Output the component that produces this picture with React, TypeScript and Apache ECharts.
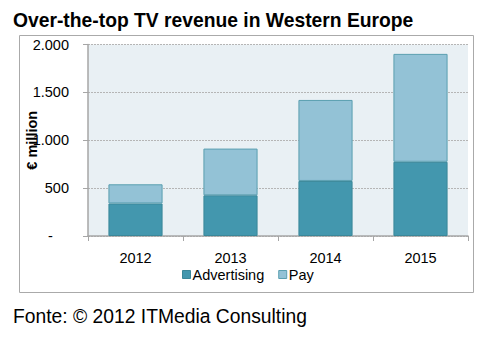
import React, { useEffect, useRef } from "react";
import * as echarts from "echarts";

const years = ["2012", "2013", "2014", "2015"];
const advertising = [340, 425, 575, 775];
const pay = [200, 488, 846, 1127];
const yTicks = [0, 500, 1000, 1500, 2000];

const FONT = "'Liberation Sans', Arial, sans-serif";

function fmt(v: number): string {
  if (v === 0) return "-    ";
  const s = String(v);
  return s.length > 3 ? s.slice(0, s.length - 3) + "." + s.slice(s.length - 3) : s;
}

export default function App() {
  const ref = useRef<HTMLDivElement>(null);
  useEffect(() => {
    if (!ref.current) return;
    const chart = echarts.init(ref.current, undefined, { renderer: "svg" });
    chart.setOption({
      animation: false,
      backgroundColor: "#ffffff",
      textStyle: { fontFamily: FONT },
      title: {
        text: "Over-the-top TV revenue in Western Europe",
        left: 0,
        top: -2,
        textStyle: { fontFamily: FONT, fontWeight: "bold", fontSize: 19.3, color: "#000" },
      },
      graphic: [
        {
          type: "rect",
          shape: { x: 11.5, y: 27.5, width: 454, height: 257 },
          style: { fill: "none", stroke: "#aaaaaa", lineWidth: 1 },
          silent: true,
        },
        {
          type: "text",
          left: 5,
          top: 299,
          style: {
            text: "Fonte: © 2012 ITMedia Consulting",
            font: "19.3px " + FONT,
            fill: "#000",
          },
        },
      ],
      legend: {
        left: 169,
        top: 254,
        itemWidth: 8,
        itemHeight: 8,
        itemGap: 14,
        icon: "rect",
        textStyle: { fontFamily: FONT, fontSize: 14.5, color: "#000", padding: [0, 0, 0, -3] },
        data: [
          { name: "Advertising", itemStyle: { color: "#4397ae", borderColor: "#3a8799", borderWidth: 1 } },
          { name: "Pay", itemStyle: { color: "#93c2d6", borderColor: "#5a9fb0", borderWidth: 1 } },
        ],
      },
      grid: {
        left: 80,
        right: 14,
        top: 36.5,
        bottom: 93,
        show: true,
        backgroundColor: "#e9f0f4",
        borderWidth: 0,
      },
      xAxis: {
        type: "category",
        data: years,
        axisLine: { lineStyle: { color: "#a6a6a6", width: 1.5 } },
        axisTick: { show: true, length: 5, lineStyle: { color: "#a6a6a6" } },
        axisLabel: { margin: 14, fontFamily: FONT, fontSize: 14.5, color: "#000" },
      },
      yAxis: {
        type: "value",
        min: yTicks[0],
        max: yTicks[yTicks.length - 1],
        interval: yTicks[1] - yTicks[0],
        name: "€ million",
        nameLocation: "middle",
        nameRotate: 90,
        nameGap: 49,
        nameMoveOverlap: false,
        nameTextStyle: { fontFamily: FONT, fontWeight: "bold", fontSize: 14.5, color: "#000" },
        axisLine: { show: true, lineStyle: { color: "#a6a6a6", width: 1.5 } },
        axisTick: { show: true, length: 5, lineStyle: { color: "#a6a6a6" } },
        axisLabel: {
          margin: 19,
          fontFamily: FONT,
          fontSize: 14.5,
          color: "#000",
          formatter: (v: number) => fmt(v),
        },
        splitLine: { show: true, lineStyle: { color: "#b5b5b5", type: [2, 1], width: 1 } },
      },
      series: [
        {
          name: "Advertising",
          type: "bar",
          stack: "total",
          barWidth: "57%",
          data: advertising,
          itemStyle: { color: "#4397ae", borderColor: "#3a8799", borderWidth: 1 },
        },
        {
          name: "Pay",
          type: "bar",
          stack: "total",
          barWidth: "57%",
          data: pay,
          itemStyle: { color: "#93c2d6", borderColor: "#5a9fb0", borderWidth: 1 },
        },
      ],
    });
    return () => chart.dispose();
  }, []);
  return <div ref={ref} style={{ width: 474, height: 321 }} />;
}
